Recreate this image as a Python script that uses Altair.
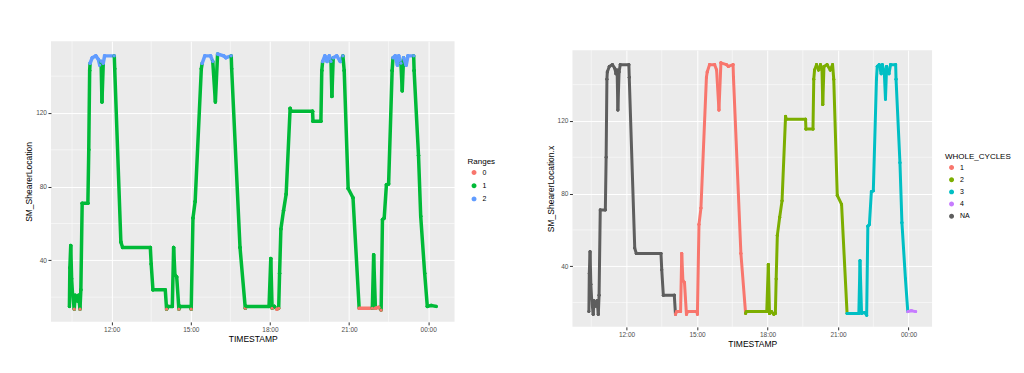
import altair as alt
import pandas as pd

# ---- data (clock time, SM_ShearerLocation) ----
clock = ["10:24", "10:25", "10:27", "10:29", "10:31", "10:35", "10:37", "10:42", "10:45", "10:48",
         "10:50", "10:53", "11:06", "11:08", "11:10", "11:11", "11:16", "11:24", "11:30", "11:33",
         "11:36", "11:38", "11:41", "11:44", "12:06", "12:07", "12:21", "12:25", "13:28", "13:30",
         "13:34", "14:02", "14:05", "14:08", "14:18", "14:21", "14:24", "14:28", "14:33", "14:36",
         "15:00", "15:01", "15:05", "15:10", "15:24", "15:26", "15:32", "15:45", "15:50", "15:56",
         "16:01", "16:15", "16:20", "16:32", "16:33", "16:52", "17:04", "17:06", "17:58", "18:02",
         "18:05", "18:10", "18:16", "18:20", "18:22", "18:25", "18:31", "18:37", "18:46", "18:48",
         "19:37", "19:38", "19:56", "19:58", "20:00", "20:05", "20:10", "20:15", "20:19", "20:21",
         "20:24", "20:32", "20:40", "20:46", "20:49", "20:58", "21:09", "21:23", "21:53", "21:56",
         "22:00", "22:08", "22:13", "22:16", "22:20", "22:25", "22:30", "22:38", "22:40", "22:45",
         "22:50", "22:53", "22:58", "23:01", "23:04", "23:10", "23:14", "23:27", "23:28", "23:38",
         "23:43", "23:52", "23:58", "00:07", "00:18"]
values = [15, 36, 48, 30, 22, 13.5, 21, 18, 21, 13.5,
          24, 71, 71, 100, 143, 147, 150, 151, 149, 146,
          148, 126, 147, 151, 151, 144, 50, 47, 47, 38,
          24, 24, 13.5, 15, 15, 47, 32, 31, 13.5, 15,
          15, 13.5, 63, 72, 144, 147, 151, 151, 148, 126,
          152, 151, 150, 151, 144, 47, 14, 15, 15, 41,
          14, 15, 13.5, 14, 33, 57, 67, 76, 122.5, 121,
          121, 115.5, 115.5, 143, 148, 151, 148, 151, 148, 129,
          150, 151, 148, 151, 143, 79, 74, 14, 14, 43,
          14, 14.5, 13, 62, 63, 81, 81.5, 143, 150, 151,
          146, 151, 147, 132, 150, 146, 151, 151, 143, 97,
          64, 33, 15, 15.5, 15]

range_labels = ["0", "1", "2"]
range_colors = ["#F8766D", "#00BA38", "#619CFF"]
range_low, range_high = 14.5, 145

cycle_labels = ["1", "2", "3", "4", "NA"]
cycle_colors = ["#F8766D", "#7CAE00", "#00BFC4", "#C77CFF", "#5E5E5E"]
cycle_starts = ["14:05", "17:04", "21:23", "23:58"]

x_tick_clock = ["12:00", "15:00", "18:00", "21:00", "00:00"]
x_minor_clock = ["10:30", "13:30", "16:30", "19:30", "22:30"]
y_ticks = [40, 80, 120]
y_minor = [20, 60, 100, 140]
x_domain_clock = ["09:42", "01:00"]
y_domain = [6.6, 159.0]


# ---- helpers ----
def to_minutes(c):
    h, m = map(int, c.split(":"))
    return h * 60 + m


def day_of(c):
    # the record starts in the morning of day 1; small hours belong to day 2
    return 2 if to_minutes(c) < 6 * 60 else 1


def iso(c):
    return f"2020-01-{day_of(c):02d}T{c}:00"


def dt(c):
    h, m = map(int, c.split(":"))
    return alt.DateTime(year=2020, month=1, date=day_of(c), hours=h, minutes=m)


def abs_min(c):
    return (day_of(c) - 1) * 1440 + to_minutes(c)


def range_of(v):
    if v <= range_low:
        return "0"
    if v >= range_high:
        return "2"
    return "1"


def cycle_of(c):
    lab = "NA"
    for i, s in enumerate(cycle_starts):
        if abs_min(c) >= abs_min(s):
            lab = cycle_labels[i]
    return lab


ts = [iso(c) for c in clock]
pts = pd.DataFrame({
    "ts": ts,
    "v": values,
    "rng": [range_of(v) for v in values],
    "cyc": [cycle_of(c) for c in clock],
})

seg_rows = []
for i in range(len(clock) - 1):
    a, b = values[i], values[i + 1]
    if min(a, b) >= range_high:
        r = "2"
    elif max(a, b) <= range_low:
        r = "0"
    else:
        r = "1"
    seg_rows.append({"ts": ts[i], "ts2": ts[i + 1], "v": a, "v2": b,
                     "rng": r, "cyc": cycle_of(clock[i])})
segs = pd.DataFrame(seg_rows)

minor_x_df = pd.DataFrame({"ts": [iso(c) for c in x_minor_clock]})
minor_y_df = pd.DataFrame({"v": y_minor})


def panel(field, title, domain, colors, y_title, w, h, stroke_w, pt_size,
          leg_x, leg_y, row_pad, leg_title_size):
    xs = alt.Scale(domain=[dt(x_domain_clock[0]), dt(x_domain_clock[1])], nice=False)
    ys = alt.Scale(domain=y_domain, nice=False, zero=False)
    xa = alt.Axis(values=[dt(c) for c in x_tick_clock], format="%H:%M", title="TIMESTAMP")
    ya = alt.Axis(values=y_ticks, title=y_title)
    cs = alt.Scale(domain=domain, range=colors)
    leg = alt.Legend(
        title=title, orient="none", legendX=leg_x, legendY=leg_y,
        titleFontSize=leg_title_size, titleFontWeight="normal", titleColor="black",
        labelFontSize=7, labelColor="black", symbolType="circle", symbolSize=12,
        symbolOffset=3, labelOffset=5, rowPadding=row_pad, padding=0,
        titlePadding=3)

    mx = alt.Chart(minor_x_df).mark_rule(color="white", strokeWidth=0.5).encode(
        x=alt.X("ts:T", scale=xs, axis=xa))
    my = alt.Chart(minor_y_df).mark_rule(color="white", strokeWidth=0.5).encode(
        y=alt.Y("v:Q", scale=ys, axis=ya))
    dots = alt.Chart(pts).mark_circle(size=pt_size, opacity=1).encode(
        x=alt.X("ts:T", scale=xs, axis=xa),
        y=alt.Y("v:Q", scale=ys, axis=ya),
        color=alt.Color(f"{field}:N", scale=cs, legend=leg))
    lines = alt.Chart(segs).mark_rule(strokeWidth=stroke_w, strokeCap="round").encode(
        x=alt.X("ts:T", scale=xs, axis=xa), x2="ts2:T",
        y=alt.Y("v:Q", scale=ys, axis=ya), y2="v2:Q",
        color=alt.Color(f"{field}:N", scale=cs, legend=leg))
    dots_top = alt.Chart(pts).mark_circle(size=pt_size, opacity=1).encode(
        x=alt.X("ts:T", scale=xs, axis=xa),
        y=alt.Y("v:Q", scale=ys, axis=ya),
        color=alt.Color(f"{field}:N", scale=cs, legend=leg))
    return alt.layer(dots, mx, my, lines, dots_top).properties(width=w, height=h)


left = panel("rng", "Ranges", range_labels, range_colors, "SM_ShearerLocation",
             404, 281, 3.5, 10, 417, 117, 2.2, 8)
right = panel("cyc", "WHOLE_CYCLES", cycle_labels, cycle_colors, "SM_ShearerLocation.x",
              360, 277, 3, 8, 373, 112, 1.2, 8)

# an empty, invisible strip that lowers the right panel a little
spacer = alt.Chart(pd.DataFrame({"a": [0]})).mark_point().encode(
    opacity=alt.value(0)
).properties(width=1, height=8,
             view=alt.ViewBackground(fillOpacity=0, strokeOpacity=0))

right_col = alt.vconcat(spacer, right, spacing=0)

chart = alt.hconcat(left, right_col, spacing=50).resolve_scale(
    color="independent", x="independent", y="independent"
).properties(
    padding={"left": 16, "top": 32, "right": 5, "bottom": 5}
).configure_view(
    fill="#EBEBEB", stroke=None
).configure_axis(
    domain=False, grid=True, gridColor="white", gridWidth=1,
    tickColor="#333333", tickSize=3, labelColor="#4D4D4D", labelFontSize=6.5,
    labelFont="Liberation Sans", titleFont="Liberation Sans", titleFontSize=8.5,
    titleFontWeight="normal", titleColor="black", labelPadding=1.5, titlePadding=2
).configure_legend(
    labelFont="Liberation Sans", titleFont="Liberation Sans"
).configure_title(font="Liberation Sans")

chart.save("out.html", embed_options={"renderer": "svg", "actions": False})
